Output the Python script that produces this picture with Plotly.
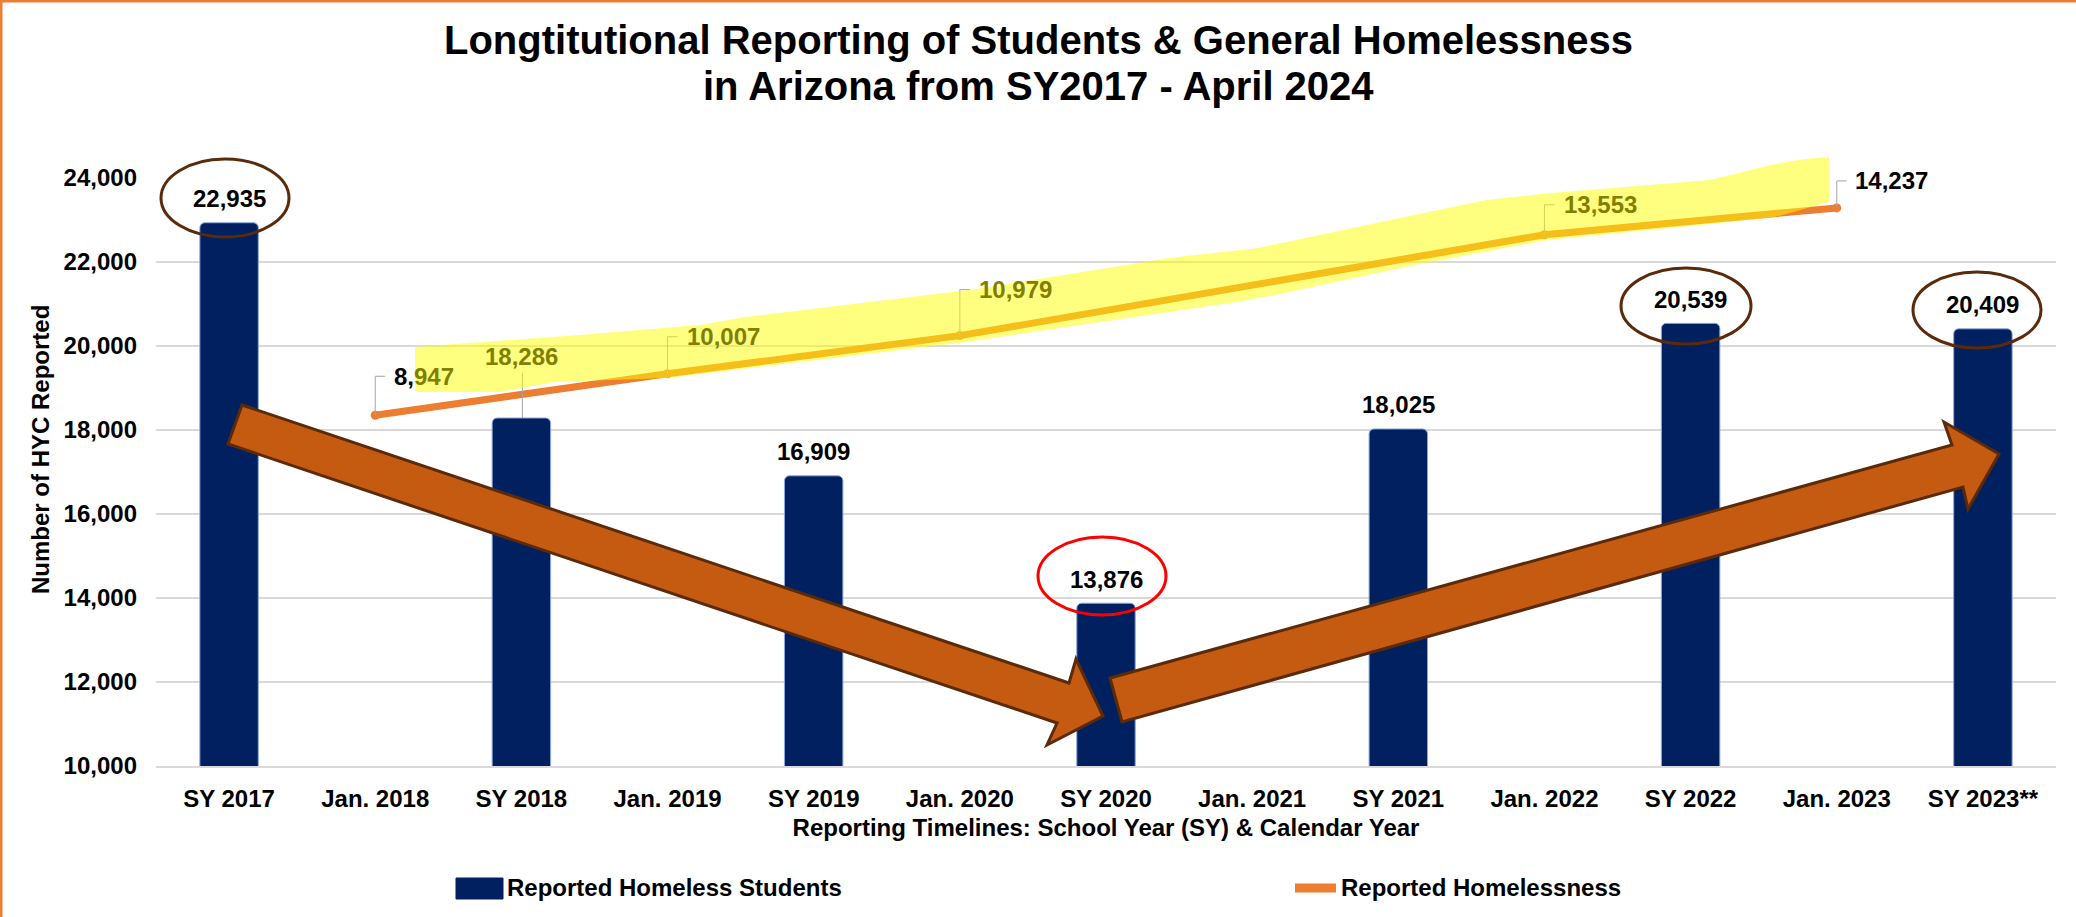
import plotly.graph_objects as go

# ---------------- data ----------------
categories = ["SY 2017", "Jan. 2018", "SY 2018", "Jan. 2019", "SY 2019", "Jan. 2020",
              "SY 2020", "Jan. 2021", "SY 2021", "Jan. 2022", "SY 2022", "Jan. 2023", "SY 2023**"]
students = [22935, None, 18286, None, 16909, None, 13876, None, 18025, None, 20539, None, 20409]
homelessness = [None, 8947, None, 10007, None, 10979, None, None, None, 13553, None, 14237, None]
y_ticks = [10000, 12000, 14000, 16000, 18000, 20000, 22000, 24000]

# ---------------- layout geometry ----------------
W, H = 2076, 917
PL, PR, PT, PB = 156, 2056, 178, 766


def X(px):
    return (px - PL) / (PR - PL)


def Y(py):
    return (PB - py) / (PB - PT)


FONT = "Liberation Sans, Arial, sans-serif"
NAVY = "#002060"
ORANGE = "#ED7D31"
ARROW_FILL = "#C55A11"
ARROW_LINE = "#5A2A0A"
OLIVE = "#808000"
GRID = "#D9D9D9"

fig = go.Figure()
fig.add_trace(go.Bar(
    x=categories, y=students, name="Reported Homeless Students",
    marker=dict(color=NAVY, line=dict(color="#8EA9DB", width=1), cornerradius=5),
    width=0.4, showlegend=False, hoverinfo="x+y",
))
fig.add_trace(go.Scatter(
    x=categories, y=homelessness, name="Reported Homelessness", yaxis="y2",
    mode="lines+markers", connectgaps=True,
    line=dict(color=ORANGE, width=7), marker=dict(color=ORANGE, size=9),
    showlegend=False,
))

annotations = []
shapes = []

# bar data labels
for c, v in zip(categories, students):
    if v is None:
        continue
    txt = f"{v:,}"
    shift = 24
    color = "black"
    if c == "SY 2018":
        shift = 61
        color = OLIVE
        shapes.append(dict(type="path", xref="x", yref="y", xsizemode="pixel", ysizemode="pixel",
                           xanchor=categories.index(c), yanchor=v,
                           path="M 1,0 L 1,45", line=dict(color="#A6A6A6", width=1), layer="above"))
    annotations.append(dict(x=c, y=v, xref="x", yref="y", text=txt, showarrow=False,
                            yshift=shift, xanchor="center", yanchor="middle",
                            font=dict(family=FONT, size=24, color=color, weight="bold")))

# line data labels with leader lines
line_label_offsets = {"Jan. 2018": (49, 39), "Jan. 2019": (56, 37), "Jan. 2020": (56, 46),
                      "Jan. 2022": (56, 30), "Jan. 2023": (55, 27)}
for c, v in zip(categories, homelessness):
    if v is None:
        continue
    dx, dy = line_label_offsets[c]
    s = f"{v:,}"
    if c == "Jan. 2018":
        txt = s[:2] + f"<span style='color:{OLIVE}'>" + s[2:] + "</span>"
        col = "black"
    elif c == "Jan. 2023":
        txt = s
        col = "black"
    else:
        txt = s
        col = OLIVE
    annotations.append(dict(x=c, y=v, xref="x", yref="y2", text=txt, showarrow=False,
                            xshift=dx, yshift=dy, xanchor="center", yanchor="middle",
                            font=dict(family=FONT, size=24, color=col, weight="bold")))
    shapes.append(dict(type="path", xref="x", yref="y2", xsizemode="pixel", ysizemode="pixel",
                       xanchor=categories.index(c), yanchor=v,
                       path=f"M 0,0 L 0,{dy} L 10,{dy}",
                       line=dict(color="#A6A6A6", width=1), layer="above"))

# yellow highlighter over the homelessness line
hl_top = [(415, 347), (469, 343), (580, 335), (700, 325), (745, 317), (977, 289), (1169, 258),
          (1258, 248), (1400, 218), (1486, 200), (1551, 193), (1710, 180), (1775, 164),
          (1805, 159), (1829, 157)]
hl_bot = [(1829, 202), (1775, 217), (1710, 224), (1547, 240), (1400, 268), (1280, 294),
          (1236, 302), (959, 343), (700, 374), (668, 378), (555, 382), (500, 392), (415, 392)]
pts = hl_top + hl_bot
path = "M " + " L ".join(f"{X(a):.5f},{Y(b):.5f}" for a, b in pts) + " Z"
shapes.append(dict(type="path", xref="paper", yref="paper", path=path,
                   fillcolor="rgba(255,255,0,0.5)", line=dict(width=0), layer="above"))

# big block arrows
arrow1 = [(242, 405), (1069, 683), (1076, 659), (1103, 716), (1047, 745), (1057, 723), (228, 444)]
arrow2 = [(1110, 678), (1952, 445), (1944, 422), (1999, 454), (1968, 509), (1963, 487), (1122, 722)]
for arr in (arrow1, arrow2):
    p = "M " + " L ".join(f"{X(a):.5f},{Y(b):.5f}" for a, b in arr) + " Z"
    shapes.append(dict(type="path", xref="paper", yref="paper", path=p,
                       fillcolor=ARROW_FILL, line=dict(color=ARROW_LINE, width=3), layer="above"))

# ellipses around key labels
ellipses = [((225, 198, 64, 39), ARROW_LINE), ((1102, 576, 64, 39), "#FF0000"),
            ((1686, 306, 65, 38), ARROW_LINE), ((1977, 310, 64, 38), ARROW_LINE)]
for (cx, cy, rx, ry), col in ellipses:
    shapes.append(dict(type="circle", xref="paper", yref="paper",
                       x0=X(cx - rx), x1=X(cx + rx), y0=Y(cy + ry), y1=Y(cy - ry),
                       line=dict(color=col, width=3), layer="above"))

# title (two lines)
annotations.append(dict(xref="paper", yref="paper", x=X(1038), y=Y(40), showarrow=False,
                        text="Longtitutional Reporting of Students & General Homelessness",
                        xanchor="center", yanchor="middle",
                        font=dict(family=FONT, size=40, color="black", weight="bold")))
annotations.append(dict(xref="paper", yref="paper", x=X(1038), y=Y(86), showarrow=False,
                        text="in Arizona from SY2017 - April 2024",
                        xanchor="center", yanchor="middle",
                        font=dict(family=FONT, size=40, color="black", weight="bold")))

# y axis title
annotations.append(dict(xref="paper", yref="paper", x=X(40), y=Y(450), showarrow=False,
                        text="Number of HYC Reported", textangle=-90,
                        xanchor="center", yanchor="middle",
                        font=dict(family=FONT, size=24, color="black", weight="bold")))

# custom legend
shapes.append(dict(type="rect", xref="paper", yref="paper", x0=X(456), x1=X(503), y0=Y(899), y1=Y(878),
                   fillcolor=NAVY, line=dict(color=NAVY, width=1)))
annotations.append(dict(xref="paper", yref="paper", x=X(505), y=Y(888), showarrow=False,
                        text="Reported Homeless Students", xanchor="left", yanchor="middle",
                        font=dict(family=FONT, size=24, color="black", weight="bold")))
shapes.append(dict(type="line", xref="paper", yref="paper", x0=X(1295), x1=X(1336), y0=Y(888), y1=Y(888),
                   line=dict(color=ORANGE, width=9)))
annotations.append(dict(xref="paper", yref="paper", x=X(1339), y=Y(888), showarrow=False,
                        text="Reported Homelessness", xanchor="left", yanchor="middle",
                        font=dict(family=FONT, size=24, color="black", weight="bold")))

# figure border (top and left)
shapes.append(dict(type="line", xref="paper", yref="paper", x0=X(0), x1=X(W), y0=Y(1), y1=Y(1),
                   line=dict(color=ORANGE, width=3)))
shapes.append(dict(type="line", xref="paper", yref="paper", x0=X(1), x1=X(1), y0=Y(0), y1=Y(H),
                   line=dict(color=ORANGE, width=3)))

fig.update_layout(
    width=W, height=H,
    margin=dict(l=PL, r=W - PR, t=PT, b=H - PB),
    paper_bgcolor="white", plot_bgcolor="white",
    font=dict(family=FONT, color="black"),
    showlegend=False,
    xaxis=dict(type="category", categoryorder="array", categoryarray=categories,
               range=[-0.5, len(categories) - 0.5], autorange=False,
               showgrid=False, showline=True, linecolor=GRID, linewidth=2,
               tickfont=dict(family=FONT, size=24, color="black", weight="bold"),
               ticklabelstandoff=10,
               title=dict(text="Reporting Timelines: School Year (SY) & Calendar Year",
                          font=dict(family=FONT, size=24, color="black", weight="bold"),
                          standoff=8)),
    yaxis=dict(range=[10000, 24000], tickvals=y_ticks, tickformat=",d",
               showgrid=True, gridcolor=GRID, gridwidth=2, zeroline=False, showline=False,
               tickfont=dict(family=FONT, size=24, color="black", weight="bold"),
               ticklabelstandoff=18),
    yaxis2=dict(range=[0, 15000], overlaying="y", side="right", visible=False, showgrid=False),
    annotations=annotations,
    shapes=shapes,
    bargap=0.6,
)

fig.write_html("out.html")
